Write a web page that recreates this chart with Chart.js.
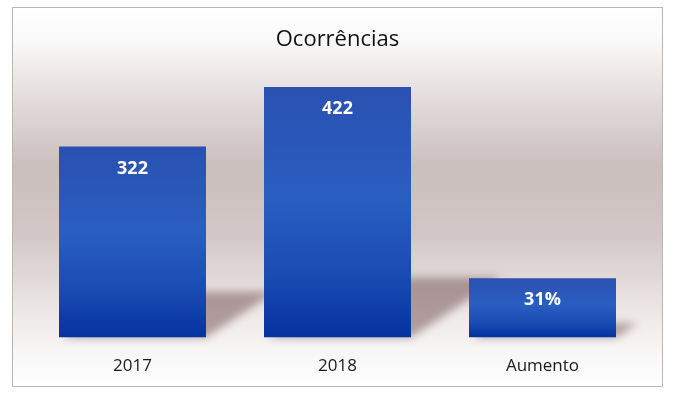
<!DOCTYPE html>
<html>
<head>
<meta charset="utf-8">
<script src="https://cdn.jsdelivr.net/npm/chart.js@4/dist/chart.umd.min.js"></script>
<style>
  html,body{margin:0;padding:0;background:#fff;}
  #wrap{width:676px;height:398px;position:relative;}
</style>
</head>
<body>
<div id="wrap"><canvas id="c" width="676" height="398"></canvas></div>
<script>
const chartTitle = "Ocorrências";
const categories = ["2017", "2018", "Aumento"];
const values = [322, 422, 100];
const valueLabels = ["322", "422", "31%"];

const FONT = "'Open Sans', 'DejaVu Sans', sans-serif";

const framePlugin = {
  id: 'frame',
  beforeDraw(chart) {
    const ctx = chart.ctx;
    ctx.save();
    ctx.fillStyle = '#ffffff';
    ctx.fillRect(0, 0, chart.width, chart.height);
    const x0 = 12, y0 = 7, w = 650, h = 379;
    const g = ctx.createLinearGradient(0, y0, 0, y0 + h);
    g.addColorStop(0, '#ffffff');
    g.addColorStop(0.08, '#fbfafa');
    g.addColorStop(0.25, '#e2dbda');
    g.addColorStop(0.42, '#cbbfbe');
    g.addColorStop(0.6, '#d2c7c6');
    g.addColorStop(0.8, '#ece7e6');
    g.addColorStop(0.92, '#f9f7f7');
    g.addColorStop(1, '#ffffff');
    ctx.fillStyle = g;
    ctx.fillRect(x0, y0, w, h);
    ctx.strokeStyle = '#b9b6b6';
    ctx.lineWidth = 1;
    ctx.strokeRect(x0 + 0.5, y0 + 0.5, w, h);
    ctx.restore();
  },
  beforeDatasetsDraw(chart) {
    const ctx = chart.ctx;
    const meta = chart.getDatasetMeta(0);
    ctx.save();
    ctx.filter = 'blur(4px)';
    ctx.fillStyle = 'rgba(110,75,75,0.5)';
    meta.data.forEach(bar => {
      const left = bar.x - bar.width / 2, right = bar.x + bar.width / 2;
      const bottom = bar.base, hgt = bar.base - bar.y;
      const hs = hgt * 0.24, dx = hs * 1.5;
      ctx.beginPath();
      ctx.moveTo(left + 4, bottom);
      ctx.lineTo(right, bottom);
      ctx.lineTo(right + dx, bottom - hs);
      ctx.lineTo(left + dx, bottom - hs);
      ctx.closePath();
      ctx.fill();
    });
    ctx.restore();
  },
  afterDatasetsDraw(chart) {
    const ctx = chart.ctx;
    const meta = chart.getDatasetMeta(0);
    ctx.save();
    ctx.fillStyle = '#ffffff';
    ctx.font = "bold 18px " + FONT;
    ctx.textAlign = 'center';
    ctx.textBaseline = 'middle';
    meta.data.forEach((bar, i) => {
      ctx.fillText(valueLabels[i], bar.x, bar.y + 22);
    });
    ctx.restore();
  }
};

function barGradient(context) {
  const chart = context.chart;
  const ys = chart.scales && chart.scales.y;
  if (!ys || context.raw == null) return '#2a55b5';
  const top = ys.getPixelForValue(context.raw);
  const bottom = ys.getPixelForValue(0);
  if (!isFinite(top) || !isFinite(bottom) || top === bottom) return '#2a55b5';
  const g = chart.ctx.createLinearGradient(0, top, 0, bottom);
  g.addColorStop(0, '#2a51b1');
  g.addColorStop(0.45, '#295ec1');
  g.addColorStop(0.75, '#1a4bb3');
  g.addColorStop(1, '#0432a0');
  return g;
}

new Chart(document.getElementById('c'), {
  type: 'bar',
  data: {
    labels: categories,
    datasets: [{
      data: values,
      backgroundColor: barGradient,
      borderWidth: 0,
      categoryPercentage: 1,
      barPercentage: 0.717
    }]
  },
  options: {
    responsive: false,
    animation: false,
    devicePixelRatio: 1,
    layout: { padding: { left: 30, right: 31, top: 27, bottom: 4 } },
    plugins: {
      legend: { display: false },
      tooltip: { enabled: false },
      title: {
        display: true,
        text: chartTitle,
        color: '#111111',
        font: { family: FONT, size: 22, weight: 'normal', lineHeight: 1.2 },
        padding: { top: 0, bottom: 17 }
      }
    },
    scales: {
      x: {
        grid: { display: false, drawTicks: false },
        border: { display: false },
        ticks: { color: '#1a1a1a', font: { family: FONT, size: 17 }, padding: 18 }
      },
      y: {
        display: false,
        min: 0,
        max: 450
      }
    }
  },
  plugins: [framePlugin]
});
</script>
</body>
</html>
